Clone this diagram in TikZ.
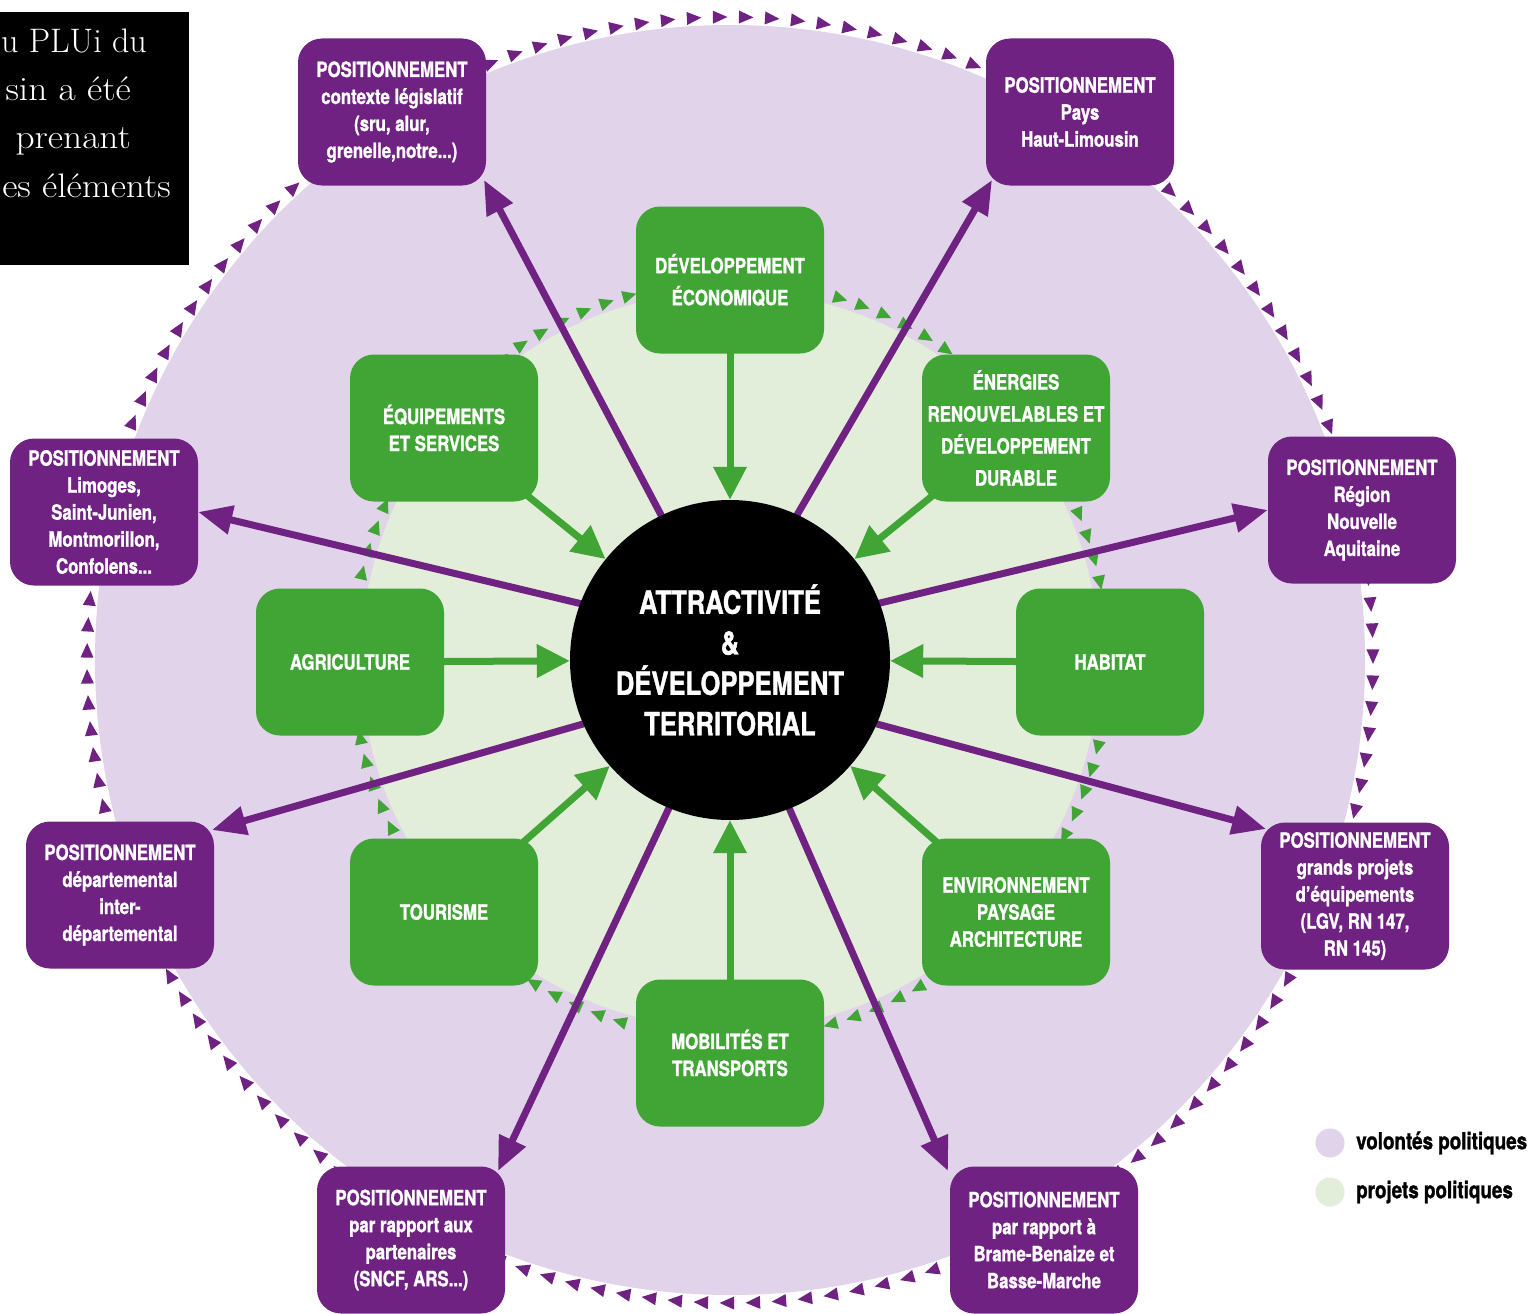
\documentclass[tikz,border=0pt]{standalone}
\usepackage{fontspec}
\newfontfamily\cond{TeX Gyre Heros}[FakeStretch=0.8,FakeBold=1.2]
\newfontfamily\garfont{Latin Modern Roman}[FakeStretch=1.1]
\usetikzlibrary{arrows.meta,calc}
\definecolor{lav}{HTML}{E0D3EA}
\definecolor{lgreen}{HTML}{E2EDDA}
\definecolor{grn}{HTML}{40A535}
\definecolor{purp}{HTML}{6F2282}
\pgfdeclarelayer{back}
\pgfdeclarelayer{mid}
\pgfsetlayers{back,mid,main}
\begin{document}
\begin{tikzpicture}[x=1pt,y=-1pt,
  gbox/.style={fill=grn, rounded corners=24pt, minimum width=188pt, minimum height=147pt,
    text=white, align=center, inner sep=0pt,
    font=\cond\bfseries\fontsize{21}{27}\selectfont},
  gboxwide/.style={gbox, font=\cond\bfseries\fontsize{21}{32}\selectfont},
  pbox/.style={gbox, fill=purp},
  garrow/.style={draw=grn, line width=7pt, -{Triangle[length=33pt,width=32pt,fill=grn]}},
  parrow/.style={draw=purp, line width=7pt, -{Triangle[length=34pt,width=28pt,fill=purp]}},
  legtext/.style={anchor=west, inner sep=0pt, font=\cond\bfseries\fontsize{23.5}{27}\selectfont},
  sertext/.style={anchor=base east, inner sep=0pt, text=white, font=\garfont\fontsize{34}{40}\selectfont},
  sertextplain/.style={sertext, font=\fontsize{34}{40}\selectfont}
]
\useasboundingbox (0,0) rectangle (1537,1314);

% ---------- background discs and triangle rings ----------
\begin{pgfonlayer}{back}
\fill[white] (0,0) rectangle (1537,1314);
\fill[lav] (730,660) circle[radius=635pt];
\foreach \k in {0,...,154} {
  \pgfmathsetmacro\a{90.9-2.322581*\k}
  \pgfmathsetmacro\ca{cos(\a)}
  \pgfmathsetmacro\sa{sin(\a)}
  \pgfmathsetmacro\X{730+643*\ca}
  \pgfmathsetmacro\Y{660-643*\sa}
  \fill[purp] ({\X+7.5*\sa},{\Y+7.5*\ca}) -- ({\X-7*\sa+6.5*\ca},{\Y-7*\ca-6.5*\sa})
     -- ({\X-7*\sa-6.5*\ca},{\Y-7*\ca+6.5*\sa}) -- cycle;
}
\fill[lgreen] (730,660) circle[radius=369pt];
\foreach \k in {0,...,99} {
  \pgfmathsetmacro\a{91-3.6*\k}
  \pgfmathsetmacro\ca{cos(\a)}
  \pgfmathsetmacro\sa{sin(\a)}
  \pgfmathsetmacro\X{730+378*\ca}
  \pgfmathsetmacro\Y{660-378*\sa}
  \fill[grn] ({\X+7*\sa},{\Y+7*\ca}) -- ({\X-7*\sa+6.5*\ca},{\Y-7*\ca-6.5*\sa})
     -- ({\X-7*\sa-6.5*\ca},{\Y-7*\ca+6.5*\sa}) -- cycle;
}
\end{pgfonlayer}

% ---------- centre ----------
\node[circle, fill=black, minimum size=320pt, inner sep=0pt, text=white, align=center,
  font=\cond\bfseries\fontsize{32}{40.5}\selectfont] (c) at (730,660)
  {ATTRACTIVITÉ\\\&\\DÉVELOPPEMENT\\TERRITORIAL};

% ---------- green boxes ----------
\node[gboxwide] (eco) at (730,280) {DÉVELOPPEMENT\\ÉCONOMIQUE};
\node[gbox] (equ) at (444,428) {ÉQUIPEMENTS\\ET SERVICES};
\node[gboxwide] (ene) at (1016,428) {ÉNERGIES\\RENOUVELABLES ET\\DÉVELOPPEMENT\\DURABLE};
\node[gbox] (agr) at (350,662) {AGRICULTURE};
\node[gbox] (hab) at (1110,662) {HABITAT};
\node[gbox] (tou) at (444,912) {TOURISME};
\node[gbox] (env) at (1016,912) {ENVIRONNEMENT\\PAYSAGE\\ARCHITECTURE};
\node[gbox] (mob) at (730,1053) {MOBILITÉS ET\\TRANSPORTS};

% ---------- purple boxes ----------
\node[pbox] (p1) at (392,112) {POSITIONNEMENT\\contexte législatif\\(sru, alur,\\grenelle,notre...)};
\node[pbox] (p2) at (1080,112) {POSITIONNEMENT\\Pays\\Haut-Limousin};
\node[pbox] (p3) at (104,512) {POSITIONNEMENT\\Limoges,\\Saint-Junien,\\Montmorillon,\\Confolens...};
\node[pbox] (p4) at (1362,510) {POSITIONNEMENT\\Région\\Nouvelle\\Aquitaine};
\node[pbox] (p5) at (120,895) {POSITIONNEMENT\\départemental\\inter-\\départemental};
\node[pbox] (p6) at (1355,896) {POSITIONNEMENT\\grands projets\\d’équipements\\(LGV, RN 147,\\RN 145)};
\node[pbox] (p7) at (411,1240) {POSITIONNEMENT\\par rapport aux\\partenaires\\(SNCF, ARS...)};
\node[pbox] (p8) at (1044,1240) {POSITIONNEMENT\\par rapport à\\Brame-Benaize et\\Basse-Marche};

% ---------- connector end points ----------
\coordinate (s1) at (660,513);  \coordinate (t1) at (484,180);
\coordinate (s2) at (797,515);  \coordinate (t2) at (992,180);
\coordinate (s3) at (578,603);  \coordinate (t3) at (p3.east);
\coordinate (s4) at (880,603);  \coordinate (t4) at (p4.west);
\coordinate (s5) at (583,724);  \coordinate (t5) at (212,830);
\coordinate (s6) at (877,724);  \coordinate (t6) at (1266,829);
\coordinate (s7) at (668,810);  \coordinate (t7) at (498,1171);
\coordinate (s8) at (790,810);  \coordinate (t8) at (948,1171);

\begin{pgfonlayer}{mid}
\foreach \i in {1,...,8} {
  \draw[parrow] ($(s\i)!-25pt!(t\i)$) -- (t\i);
}
\foreach \b in {eco,equ,ene,agr,hab,tou,env,mob} {
  \draw[garrow] (\b.center) -- (c);
}
\end{pgfonlayer}

% ---------- legend ----------
\fill[lav] (1330,1143) circle[radius=14.5pt];
\fill[lgreen] (1330,1192) circle[radius=14.5pt];
\node[legtext] (l1) at (1356,1143) {volontés politiques};
\node[legtext] (l2) at (1356,1192) {projets politiques};

% ---------- black text box ----------
\fill[black] (0,12) rectangle (189,265);
\begin{scope}
\clip (0,12) rectangle (189,265);
\node[sertextplain] (b1) at (147,53) {u PLUi du};
\node[sertext] (b2) at (131,100) {sin a été};
\node[sertext] (b3) at (131,148) {prenant};
\node[sertext] (b4) at (171,197) {es éléments};
\end{scope}
\end{tikzpicture}
\end{document}
